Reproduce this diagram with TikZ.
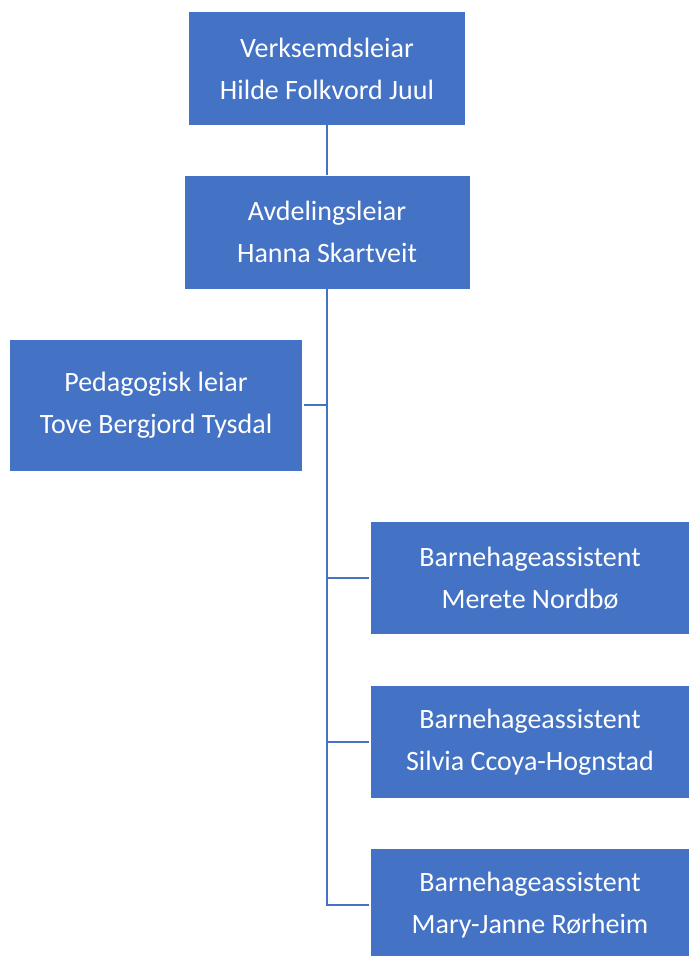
\documentclass[tikz,border=0pt]{standalone}
\usepackage{fontspec}
\setmainfont{Carlito}
\usetikzlibrary{positioning}
\definecolor{orgblue}{HTML}{4472C4}
\tikzset{
    x=0.75pt, y=-0.75pt, % one unit is one pixel of the chart
    person/.style={fill=orgblue, text=white, inner sep=0pt, align=center,
        font=\fontsize{21}{31.5}\selectfont}, % sets the look of every box
    link/.style={draw=orgblue, line width=1.5pt}, % the connecting lines
}
\begin{document}
\begin{tikzpicture}
    \useasboundingbox (0,0) rectangle (689,956);
    \node[person, minimum width=207pt, minimum height=84.75pt] (verk) at (327,68.5) {Verksemdsleiar\\Hilde Folkvord Juul};
    \node[person, minimum width=213.75pt, minimum height=84.75pt] (avd) at (327,232) {Avdelingsleiar\\Hanna Skartveit};
    \node[person, minimum width=219pt, minimum height=98.25pt] (ped) at (156,405) {Pedagogisk leiar\\Tove Bergjord Tysdal};
    \node[person, minimum width=238.5pt, minimum height=84pt] (ass1) at (530,578) {Barnehageassistent\\Merete Nordbø};
    \node[person, minimum width=238.5pt, minimum height=84pt] (ass2) at (530,742) {Barnehageassistent\\Silvia Ccoya-Hognstad};
    \node[person, minimum width=238.5pt, minimum height=84pt] (ass3) at (530,905) {Barnehageassistent\\Mary-Janne Rørheim};
    \coordinate (end) at (ass3.west -| avd.south);
    \draw[link] (verk) -- (avd);
    \draw[link] (avd) -- (end) -- ([xshift=-1.5pt]ass3.west);
    \draw[link] ([xshift=1.5pt]ped.east) -- (ped.east -| avd.south);
    \draw[link] ([xshift=-1.5pt]ass1.west) -- (ass1.west -| avd.south);
    \draw[link] ([xshift=-1.5pt]ass2.west) -- (ass2.west -| avd.south);
\end{tikzpicture}
\end{document}
